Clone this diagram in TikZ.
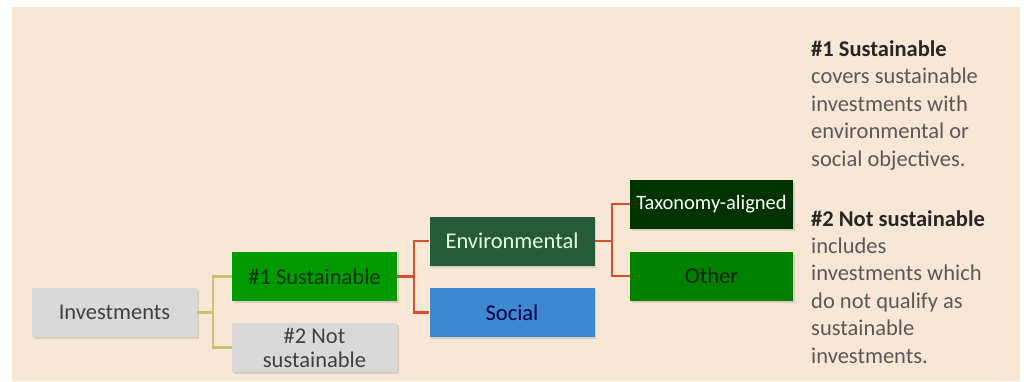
\documentclass[tikz,border=0pt]{standalone}
\usepackage{fontspec}
\setmainfont{Carlito}
\usetikzlibrary{shadows}
\definecolor{bgc}{HTML}{F9E7D6}
\definecolor{grayb}{HTML}{D9D9D9}
\definecolor{susg}{HTML}{009900}
\definecolor{envg}{HTML}{27593B}
\definecolor{socb}{HTML}{3D88CF}
\definecolor{taxg}{HTML}{003300}
\definecolor{othg}{HTML}{008000}
\definecolor{olivec}{HTML}{C9C46E}
\definecolor{redc}{HTML}{D5502E}
\definecolor{txtg}{HTML}{595959}
\begin{document}
\begin{tikzpicture}[x=1pt,y=-1pt,
  box/.style={minimum width=165pt,minimum height=49pt,inner sep=2pt,align=center,
    font=\fontsize{22.5}{24}\selectfont,
    drop shadow={opacity=0.25,shadow xshift=1.5pt,shadow yshift=-2pt}},
  lin/.style={line width=2.2pt},
  side/.style={anchor=base west,align=left,text=txtg,inner sep=0pt,
    font=\fontsize{22.5}{27.4}\selectfont}]
\useasboundingbox (0,0) rectangle (1024,381);
\fill[bgc] (12,7) rectangle (1020,381);
\node[box,fill=grayb,text=black!75] (inv) at (114.5,312.5) {Investments};
\node[box,fill=susg,text=black!80!green] (sus) at (314.5,276.5) {\#1 Sustainable};
\node[box,fill=grayb,text=black!75] (nsus) at (314.5,347.5) {\#2 Not\\sustainable};
\node[box,fill=envg,text=white!88!green] (env) at (512,241) {Environmental};
\node[box,fill=socb,text=blue!30!black] (soc) at (512,312.5) {Social};
\node[box,minimum width=163pt,fill=taxg,text=white,font=\fontsize{20.5}{22}\selectfont] (tax) at (711.5,204) {Taxonomy-aligned};
\node[box,minimum width=163pt,fill=othg,text=black!85!green] (oth) at (711.5,276) {Other};
\draw[lin,olivec] (inv.east) -- ++(16,0) |- (sus.west);
\draw[lin,olivec] (inv.east) -- ++(16,0) |- (nsus.west);
\draw[lin,redc] (sus.east) -- ++(17,0) |- (env.west);
\draw[lin,redc] (sus.east) -- ++(17,0) |- (soc.west);
\draw[lin,redc] (env.east) -- ++(17,0) |- (tax.west);
\draw[lin,redc] (env.east) -- ++(17,0) |- (oth.west);
\node[side] (d1) at (811,166) {\textbf{\textcolor{black!85}{\#1 Sustainable}}\\covers sustainable\\investments with\\environmental or\\social objectives.};
\node[side] (d2) at (811,363) {\textbf{\textcolor{black!85}{\#2 Not sustainable}}\\includes\\investments which\\do not qualify as\\sustainable\\investments.};
\end{tikzpicture}
\end{document}
